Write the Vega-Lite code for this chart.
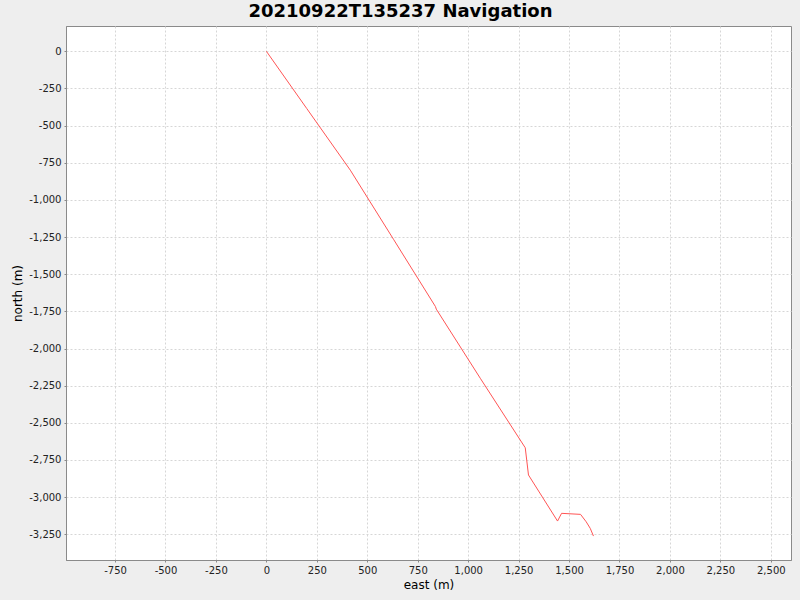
{
  "$schema": "https://vega.github.io/schema/vega-lite/v6.json",
  "width": 725,
  "height": 534,
  "autosize": {"type": "none"},
  "padding": {"left": 66, "top": 26, "right": 9, "bottom": 40},
  "background": "#eeeeee",
  "title": {
    "text": "20210922T135237 Navigation",
    "font": "DejaVu Sans",
    "fontSize": 18,
    "fontWeight": "bold",
    "color": "#000000",
    "anchor": "middle",
    "dx": -28,
    "dy": 16,
    "baseline": "alphabetic",
    "offset": 7
  },
  "data": {
    "values": [
      {"i": 0, "east": 0, "north": 0},
      {"i": 1, "east": 200, "north": -385},
      {"i": 2, "east": 416, "north": -800},
      {"i": 3, "east": 630, "north": -1265},
      {"i": 4, "east": 838, "north": -1718},
      {"i": 5, "east": 842, "north": -1735},
      {"i": 6, "east": 1060, "north": -2200},
      {"i": 7, "east": 1283, "north": -2668},
      {"i": 8, "east": 1299, "north": -2851},
      {"i": 9, "east": 1443, "north": -3161},
      {"i": 10, "east": 1463, "north": -3109},
      {"i": 11, "east": 1557, "north": -3116},
      {"i": 12, "east": 1585, "north": -3166},
      {"i": 13, "east": 1605, "north": -3210},
      {"i": 14, "east": 1621, "north": -3262}
    ]
  },
  "mark": {"type": "line", "color": "#ff5555", "strokeWidth": 1, "clip": true},
  "encoding": {
    "order": {"field": "i", "type": "quantitative"},
    "x": {
      "field": "east",
      "type": "quantitative",
      "title": "east (m)",
      "scale": {"domain": [-993, 2600], "nice": false, "zero": false},
      "axis": {
        "values": [-750, -500, -250, 0, 250, 500, 750, 1000, 1250, 1500, 1750, 2000, 2250, 2500],
        "labelExpr": "replace(format(datum.value, ','), '\u2212', '-')"
      }
    },
    "y": {
      "field": "north",
      "type": "quantitative",
      "title": "north (m)",
      "scale": {"domain": [-3423, 170], "nice": false, "zero": false},
      "axis": {
        "values": [0, -250, -500, -750, -1000, -1250, -1500, -1750, -2000, -2250, -2500, -2750, -3000, -3250],
        "labelExpr": "replace(format(datum.value, ','), '\u2212', '-')"
      }
    }
  },
  "config": {
    "view": {"stroke": "#8a8a8a", "fill": "#ffffff", "strokeWidth": 1},
    "axis": {
      "grid": true,
      "gridColor": "#d6d6d6",
      "gridDash": [2, 2],
      "gridWidth": 1,
      "domainColor": "#8a8a8a",
      "tickColor": "#8a8a8a",
      "tickSize": 2,
      "labelFont": "DejaVu Sans",
      "labelFontSize": 10,
      "labelColor": "#222222",
      "labelPadding": 3,
      "titleFont": "DejaVu Sans",
      "titleFontSize": 12,
      "titleFontWeight": "normal",
      "titleColor": "#000000"
    },
    "axisX": {"titlePadding": 4},
    "axisY": {"titlePadding": 4}
  }
}
